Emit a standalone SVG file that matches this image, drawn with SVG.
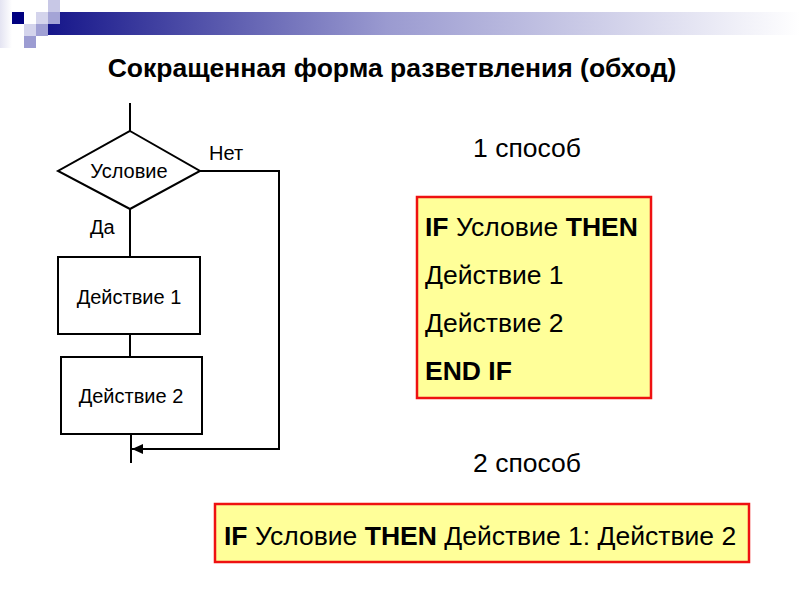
<svg xmlns="http://www.w3.org/2000/svg" width="800" height="600" viewBox="0 0 800 600">
<defs>
<linearGradient id="bar" x1="0" y1="0" x2="1" y2="0">
<stop offset="0" stop-color="#16168a"/>
<stop offset="0.45" stop-color="#9a9ad0"/>
<stop offset="1" stop-color="#ffffff"/>
</linearGradient>
<linearGradient id="strip" x1="0" y1="0" x2="1" y2="0">
<stop offset="0" stop-color="#e4e4f2"/>
<stop offset="1" stop-color="#ffffff"/>
</linearGradient>
<marker id="arr" markerWidth="12" markerHeight="10" refX="11" refY="5" orient="auto" markerUnits="userSpaceOnUse">
<path d="M0,0 L11,5 L0,10 Z" fill="#000"/>
</marker>
</defs>
<style>
.t{font-family:"Liberation Sans",Arial,sans-serif;fill:#000}
.f{font-size:20px}
.c{font-size:26.5px}
.ln{stroke:#000;stroke-width:2;fill:none}
.nd{fill:#fff;stroke:#000;stroke-width:2}
.code{fill:#ffff99;stroke:#ee1111;stroke-width:2.5}
</style>
<rect width="800" height="600" fill="#fff"/>
<g id="header">
<rect x="0" y="0" width="12" height="48" fill="url(#strip)"/>
<rect x="48" y="12" width="752" height="23" fill="url(#bar)"/>
<rect x="12" y="12" width="12" height="12" fill="#000080"/>
<rect x="48" y="0" width="12" height="12" fill="#c8c8e6"/>
<rect x="36" y="12" width="12" height="12" fill="#d4d4ec"/>
<rect x="48" y="12" width="12" height="12" fill="#a4a4d6"/>
<rect x="24" y="24" width="12" height="12" fill="#d4d4ec"/>
<rect x="36" y="24" width="12" height="12" fill="#a0a0d4"/>
<rect x="24" y="36" width="12" height="12" fill="#9c9cd2"/>
</g>
<text class="t" x="392" y="77" font-size="26.5" font-weight="bold" text-anchor="middle">Сокращенная форма разветвления (обход)</text>
<g id="connectors">
<line class="ln" x1="130" y1="103" x2="130" y2="131"/>
<line class="ln" x1="130" y1="209" x2="130" y2="257"/>
<line class="ln" x1="130" y1="334" x2="130" y2="357"/>
<line class="ln" x1="131" y1="434" x2="131" y2="463"/>
<polyline class="ln" points="200,171 279,171 279,449 132,449" marker-end="url(#arr)"/>
<text class="t f" x="209" y="160">Нет</text>
<text class="t f" x="90" y="234">Да</text>
</g>
<g id="cond">
<polygon class="nd" points="130,131 200,171 130,209 58,171"/>
<text class="t f" x="129" y="178" text-anchor="middle">Условие</text>
</g>
<g id="act1">
<rect class="nd" x="58" y="257" width="142" height="77"/>
<text class="t f" x="129" y="304" text-anchor="middle">Действие 1</text>
</g>
<g id="act2">
<rect class="nd" x="61" y="357" width="141" height="77"/>
<text class="t f" x="131" y="403" text-anchor="middle">Действие 2</text>
</g>
<text class="t c" x="527" y="157" text-anchor="middle">1 способ</text>
<g id="code1">
<rect class="code" x="417" y="197" width="234" height="201"/>
<text class="t c" x="425" y="236"><tspan font-weight="bold">IF</tspan> Условие <tspan font-weight="bold">THEN</tspan></text>
<text class="t c" x="425" y="284">Действие 1</text>
<text class="t c" x="425" y="332">Действие 2</text>
<text class="t c" x="425" y="380" font-weight="bold">END IF</text>
</g>
<text class="t c" x="527" y="472" text-anchor="middle">2 способ</text>
<g id="code2">
<rect class="code" x="215" y="504" width="534" height="58"/>
<text class="t c" x="224" y="545"><tspan font-weight="bold">IF</tspan> Условие <tspan font-weight="bold">THEN</tspan> Действие 1: Действие 2</text>
</g>
</svg>
